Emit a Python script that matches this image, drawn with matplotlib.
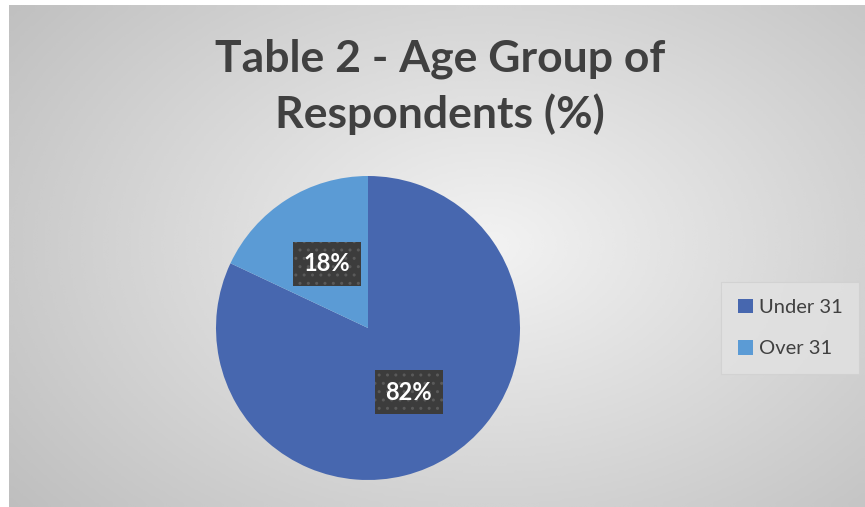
import numpy as np
import matplotlib
matplotlib.use('Agg')
import matplotlib.pyplot as plt

labels = ['Under 31', 'Over 31']
shares = [82, 18]
colors = ['#4767AF', '#5B9BD5']
title = 'Table 2 - Age Group of\nRespondents (%)'

plt.rcParams['font.family'] = ['Lato', 'DejaVu Sans']

W, H = 865, 507
fig = plt.figure(figsize=(W / 100, H / 100), dpi=100)
fig.patch.set_facecolor('white')

# radial grey background, like the office chart area
bg = fig.add_axes([9 / W, 0, 1 - 9 / W, 1 - 5 / H])
yy, xx = np.mgrid[0:200, 0:340]
cx, cy = 190, 95
r = np.sqrt(((xx - cx) / 250.0) ** 2 + ((yy - cy) / 170.0) ** 2)
r = np.clip(r, 0, 1)
grad = 0.95 - 0.21 * r
bg.imshow(grad, cmap='gray', vmin=0, vmax=1, aspect='auto',
          extent=[0, 1, 0, 1], interpolation='bicubic')
bg.set_xlim(0, 1)
bg.set_ylim(0, 1)
bg.axis('off')

# pie
cxp, cyp, rad = 368, H - 328, 152
ax = fig.add_axes([(cxp - rad) / W, (cyp - rad) / H, 2 * rad / W, 2 * rad / H])
wedges, texts, autotexts = ax.pie(
    shares, colors=colors, startangle=90, counterclock=False,
    autopct='%1.0f%%', pctdistance=0.5,
    wedgeprops=dict(linewidth=0),
    textprops=dict(color='white', fontsize=17, fontweight='bold'))
for t in autotexts:
    t.set_bbox(dict(boxstyle='square,pad=0.45', facecolor='#3c3c3c',
                    edgecolor='#5a5a5a', linewidth=0, hatch='..'))
ax.set_xlim(-1, 1)
ax.set_ylim(-1, 1)
ax.set_aspect('equal')
ax.axis('off')

fig.text(440 / W, 1 - 87 / H, title, ha='center', va='center',
         fontsize=32, fontweight='bold', color='#404040', linespacing=1.4)

leg = fig.legend(wedges, labels, loc='center', bbox_to_anchor=(790 / W, 1 - 328 / H),
                 fontsize=14.5, frameon=True, fancybox=False, handlelength=0.75,
                 handleheight=0.75, labelspacing=1.2, borderpad=0.8,
                 handletextpad=0.3, labelcolor='#404040')
leg.get_frame().set_facecolor('#e2e2e2')
leg.get_frame().set_edgecolor('#d0d0d0')
leg.get_frame().set_linewidth(0.8)

fig.savefig('out.png', dpi=100)
